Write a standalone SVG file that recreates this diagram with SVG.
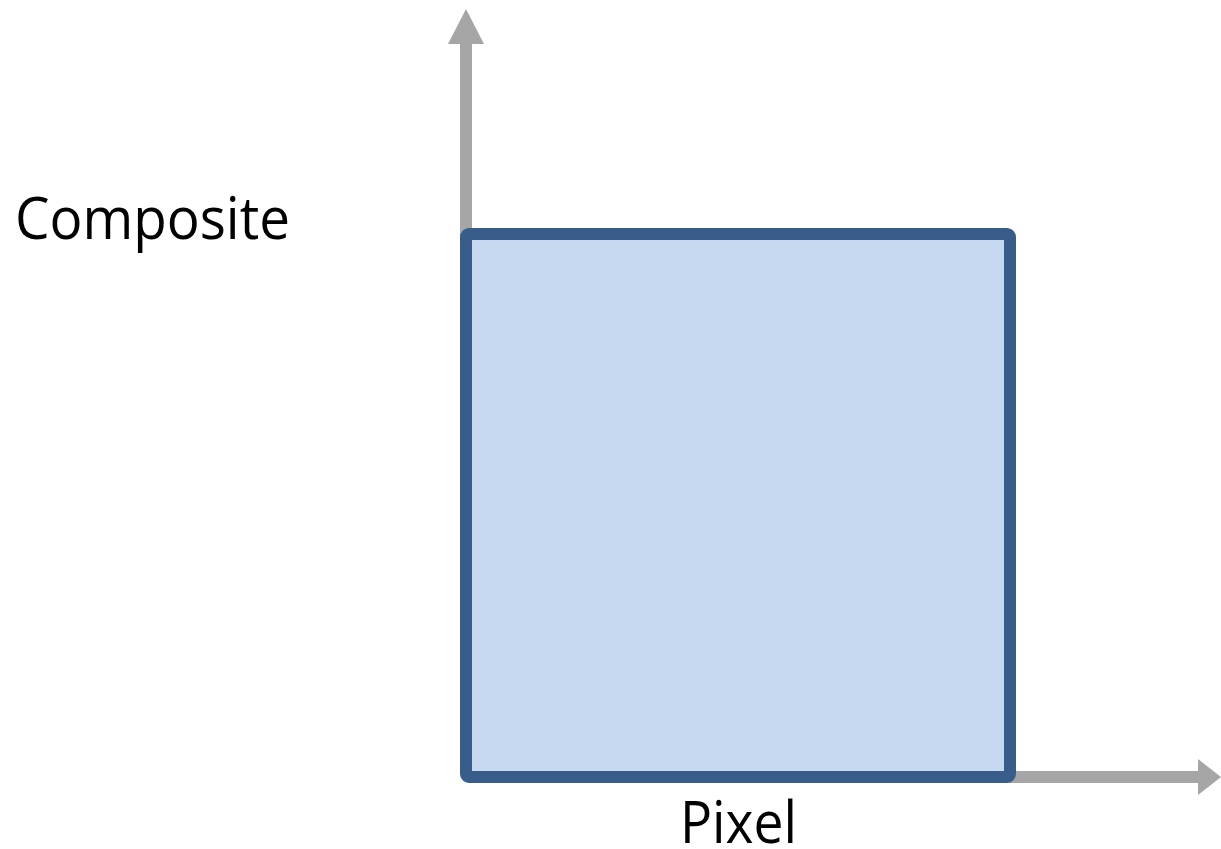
<svg xmlns="http://www.w3.org/2000/svg" width="1221" height="849" viewBox="0 0 1221 849">
  <style>
    .axis { stroke: #A6A6A6; stroke-width: 12; fill: none; }
    .head { fill: #A6A6A6; }
    .label { font-family: "Open Sans", "Liberation Sans", sans-serif; font-size: 58px; fill: #000000; }
  </style>
  <rect width="1221" height="849" fill="#FFFFFF"/>
  <g id="connectors">
    <line class="axis" x1="466" y1="240" x2="466" y2="42"/>
    <polygon class="head" points="448,44 466,9 484,44"/>
    <line class="axis" x1="1004" y1="777" x2="1200" y2="777"/>
    <polygon class="head" points="1198,759 1221,777 1198,795"/>
  </g>
  <g id="pixel-box">
    <rect x="466" y="234" width="544" height="543" rx="3" fill="#C6D9F0" stroke="#385D8A" stroke-width="12" stroke-linejoin="round"/>
  </g>
  <g id="label-composite">
    <text class="label" x="15" y="239" textLength="275" lengthAdjust="spacingAndGlyphs">Composite</text>
  </g>
  <g id="label-pixel">
    <text class="label" x="680" y="843" textLength="117" lengthAdjust="spacingAndGlyphs">Pixel</text>
  </g>
</svg>
